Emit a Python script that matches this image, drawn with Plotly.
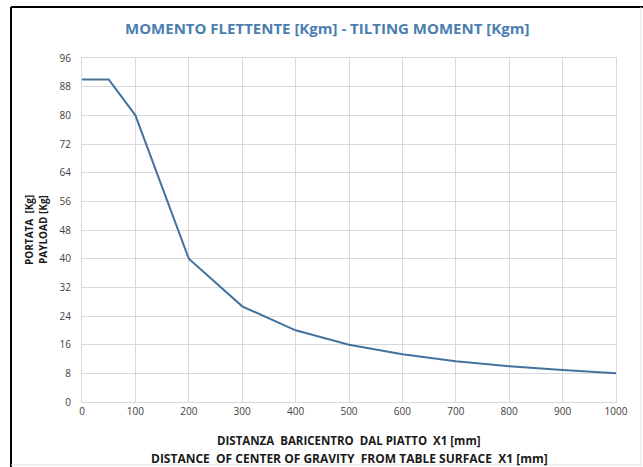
import plotly.graph_objects as go

distance_mm = [0, 50, 100, 200, 300, 400, 500, 600, 700, 800, 900, 1000]
payload_kg = [90, 90, 80, 40, 26.7, 20, 16, 13.3, 11.4, 10, 8.9, 8]
y_ticks = [0, 8, 16, 24, 32, 40, 48, 56, 64, 72, 80, 88, 96]
x_ticks = [0, 100, 200, 300, 400, 500, 600, 700, 800, 900, 1000]

title_text = "MOMENTO FLETTENTE [Kgm] - TILTING MOMENT [Kgm]"
x_title_1 = "DISTANZA&nbsp; BARICENTRO&nbsp; DAL PIATTO&nbsp; X1 [mm]"
x_title_2 = "DISTANCE&nbsp; OF CENTER OF GRAVITY&nbsp; FROM TABLE SURFACE&nbsp; X1 [mm]"
y_title_1 = "PORTATA&nbsp; [Kg]"
y_title_2 = "PAYLOAD [Kg]"

L, R, T, B = 82, 27, 58, 65
W, H = 643, 467
pw, ph = W - L - R, H - T - B

def px(x):
    return (x - L) / pw

def py(y):
    return (H - B - y) / ph

fig = go.Figure()
fig.add_trace(go.Scatter(x=distance_mm, y=payload_kg, mode="lines",
                         line=dict(color="#44729F", width=2), hoverinfo="x+y"))

grid = "#d9d9d9"
fig.update_layout(
    width=W, height=H,
    margin=dict(l=L, r=R, t=T, b=B),
    paper_bgcolor="white", plot_bgcolor="white",
    showlegend=False,
    font=dict(family="Open Sans, Liberation Sans, sans-serif", color="#404040", size=10),
    xaxis=dict(range=[0, 1000], tickvals=x_ticks, showgrid=True, gridcolor=grid, gridwidth=1,
               zeroline=False, showline=True, linecolor=grid, mirror=True, ticks="",
               tickfont=dict(size=10, color="#404040"), fixedrange=True),
    yaxis=dict(range=[0, 96], tickvals=y_ticks, showgrid=True, gridcolor=grid, gridwidth=1,
               zeroline=False, showline=True, linecolor=grid, mirror=True, ticks="",
               tickfont=dict(size=10, color="#404040"), ticklabelstandoff=8, fixedrange=True),
    annotations=[
        dict(text="<b>" + title_text + "</b>", xref="paper", yref="paper",
             x=px(327), y=py(28), xanchor="center", yanchor="middle", showarrow=False,
             font=dict(size=15, color="#4A7EB0", family="Open Sans, sans-serif")),
        dict(text="<b>" + x_title_1 + "</b>", xref="paper", yref="paper",
             x=px(349), y=py(440), xanchor="center", yanchor="middle", showarrow=False,
             font=dict(size=11.5, color="#1a1a1a")),
        dict(text="<b>" + x_title_2 + "</b>", xref="paper", yref="paper",
             x=px(349), y=py(458), xanchor="center", yanchor="middle", showarrow=False,
             font=dict(size=12, color="#1a1a1a")),
        dict(text="<b>" + y_title_1 + "</b>", xref="paper", yref="paper",
             x=px(29), y=py(230), xanchor="center", yanchor="middle", showarrow=False,
             textangle=-90, font=dict(size=10, color="#1a1a1a")),
        dict(text="<b>" + y_title_2 + "</b>", xref="paper", yref="paper",
             x=px(43), y=py(230), xanchor="center", yanchor="middle", showarrow=False,
             textangle=-90, font=dict(size=10, color="#1a1a1a")),
    ],
    shapes=[
        dict(type="line", xref="paper", yref="paper", x0=px(11), x1=px(11), y0=py(7), y1=py(467),
             line=dict(color="black", width=2)),
        dict(type="line", xref="paper", yref="paper", x0=px(11), x1=px(643), y0=py(7), y1=py(7),
             line=dict(color="black", width=2)),
        dict(type="line", xref="paper", yref="paper", x0=px(641), x1=px(641), y0=py(7), y1=py(465),
             line=dict(color="#e0e0e0", width=1)),
        dict(type="line", xref="paper", yref="paper", x0=px(11), x1=px(641), y0=py(465), y1=py(465),
             line=dict(color="#e0e0e0", width=1)),
    ],
)

fig.write_html("out.html", config={"displayModeBar": False},
               post_script="document.body.style.margin='0';document.body.style.overflow='hidden';")
